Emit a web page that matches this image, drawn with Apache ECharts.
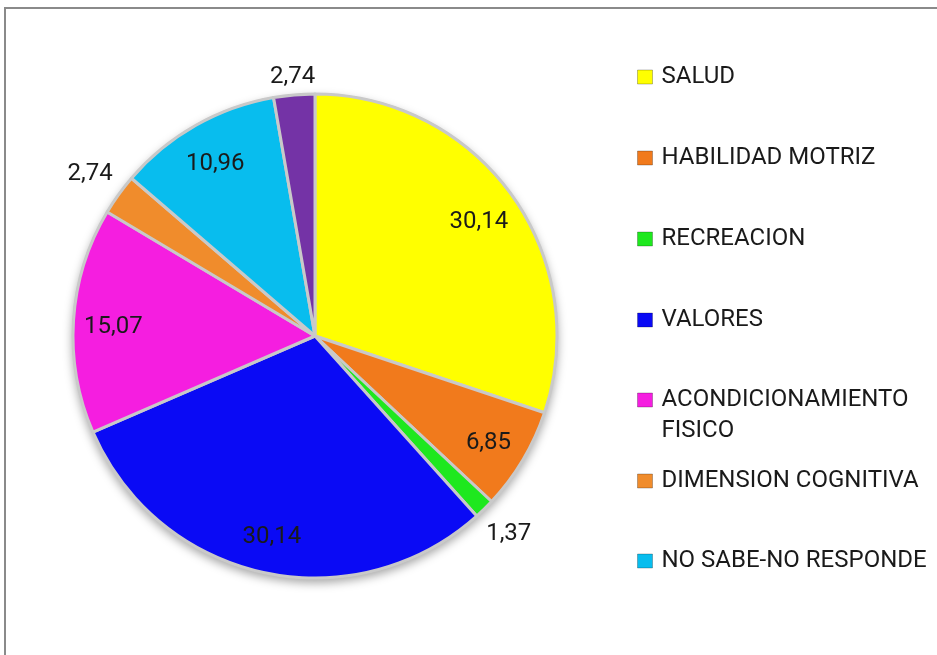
<!DOCTYPE html>
<html>
<head>
<meta charset="utf-8">
<script src="https://cdn.jsdelivr.net/npm/echarts@6/dist/echarts.min.js"></script>
<style>
html,body{margin:0;padding:0;background:#fff;}
#frame{position:absolute;left:4px;top:7px;width:940px;height:660px;border-top:2px solid #8a8a8a;border-left:2px solid #8a8a8a;}
#chart{position:absolute;left:0;top:0;width:937px;height:655px;}
</style>
</head>
<body>
<div id="frame"></div>
<div id="chart"></div>
<script>
// ---- data ----
const categories = ['SALUD', 'HABILIDAD MOTRIZ', 'RECREACION', 'VALORES', 'ACONDICIONAMIENTO FISICO', 'DIMENSION COGNITIVA', 'NO SABE-NO RESPONDE', 'OTROS'];
const values = [30.14, 6.85, 1.37, 30.14, 15.07, 2.74, 10.96, 2.74];
const legendNames = ['SALUD', 'HABILIDAD MOTRIZ', 'RECREACION', 'VALORES', 'ACONDICIONAMIENTO FISICO', 'DIMENSION COGNITIVA', 'NO SABE-NO RESPONDE'];
const legendTexts = ['SALUD', 'HABILIDAD MOTRIZ', 'RECREACION', 'VALORES', '\nACONDICIONAMIENTO\nFISICO', 'DIMENSION COGNITIVA', 'NO SABE-NO RESPONDE'];
// label placement group: 0 = inside, 1 = outside (side), 2 = outside (top)
const labelGroup = [0, 0, 1, 0, 0, 1, 0, 2];

// ---- styles ----
const colors = ['#ffff00', '#f17a1c', '#1ee81e', '#0a0af5', '#f51ee0', '#f08c2c', '#08bdee', '#7433a6'];
const legendCenters = [77, 158, 239, 320, 400, 481, 561];
const FONT = 'Roboto';
const CENTER = [315, 336];

const chart = echarts.init(document.getElementById('chart'), null, {renderer: 'canvas'});

const fmt = p => String(p.value).replace('.', ',');
const baseData = categories.map((c, i) => ({name: c, value: values[i]}));

const legends = legendNames.map((n, i) => {
  const lines = legendTexts[i].split('\n').length;
  const h = lines * 31;
  return {
    show: true,
    orient: 'vertical',
    left: 637,
    top: legendCenters[i] - h / 2,
    padding: 0,
    itemWidth: 15,
    itemHeight: 14,
    icon: 'rect',
    selectedMode: false,
    data: [{name: n, itemStyle: {color: colors[i], borderColor: 'rgba(0,0,0,0.25)', borderWidth: 1}}],
    formatter: () => legendTexts[i],
    textStyle: {fontFamily: FONT, fontSize: 24, color: '#1a1a1a', lineHeight: 31, padding: [0, 0, 0, 4]}
  };
});

function labelSeries(name, center, radius, group) {
  return {
    type: 'pie', name: name, silent: true,
    center: center, radius: radius,
    startAngle: 90, clockwise: true,
    itemStyle: {color: 'transparent'},
    labelLine: {show: false},
    emphasis: {disabled: true},
    data: baseData.map((d, i) => ({name: d.name, value: d.value, label: {show: labelGroup[i] === group}})),
    label: {position: 'inside', formatter: fmt, fontFamily: FONT, fontSize: 24, color: '#1a1a1a'}
  };
}

const option = {
  animation: false,
  backgroundColor: 'transparent',
  legend: legends,
  series: [
    {
      type: 'pie', name: 'shadow', silent: true,
      center: CENTER, radius: [0, 243],
      label: {show: false}, labelLine: {show: false},
      itemStyle: {color: '#cfcfcf', shadowBlur: 10, shadowOffsetY: 4, shadowColor: 'rgba(0,0,0,0.35)'},
      data: [{name: '__bg', value: 1}]
    },
    {
      type: 'pie', name: 'main',
      center: CENTER, radius: [0, 242],
      startAngle: 90, clockwise: true,
      label: {show: false}, labelLine: {show: false},
      emphasis: {disabled: true},
      itemStyle: {borderColor: '#c9c9c9', borderWidth: 3},
      data: baseData.map((d, i) => ({name: d.name, value: d.value, itemStyle: {color: colors[i]}}))
    },
    labelSeries('labelsIn', [315, 340], [156, 242], 0),
    labelSeries('labelsOutSide', CENTER, [250, 298], 1),
    labelSeries('labelsOutTop', CENTER, [240, 274], 2)
  ]
};
chart.setOption(option);
</script>
</body>
</html>
